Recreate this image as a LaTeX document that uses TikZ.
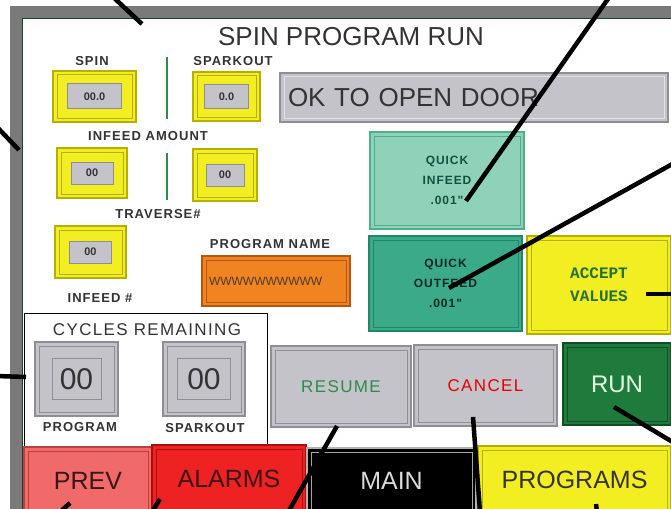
\documentclass[tikz,border=0pt]{standalone}
\usepackage{fontspec}
\setmainfont{Liberation Sans}
\newfontfamily\pixfont[BoldFont={Liberation Mono Bold}]{Liberation Mono}
\newfontfamily\labfont[LetterSpace=8]{Liberation Sans}
\usetikzlibrary{calc}
\definecolor{frame}{HTML}{7A7A7A}
\definecolor{ink}{HTML}{333333}
\definecolor{ylw}{HTML}{F2EE22}
\definecolor{ylwdk}{HTML}{B5B000}
\definecolor{fld}{HTML}{C4C3C9}
\definecolor{flddk}{HTML}{8E8E94}
\definecolor{fldlt}{HTML}{E2E2E6}
\definecolor{tealA}{HTML}{8ED3B9}
\definecolor{tealAdk}{HTML}{4FAF8D}
\definecolor{tealB}{HTML}{3BAA88}
\definecolor{tealBdk}{HTML}{21866A}
\definecolor{orng}{HTML}{F08420}
\definecolor{orngdk}{HTML}{B45810}
\definecolor{runG}{HTML}{1F7B3C}
\definecolor{runGdk}{HTML}{134F26}
\definecolor{lineG}{HTML}{2E8B4A}
\definecolor{prevR}{HTML}{F06A6A}
\definecolor{prevRdk}{HTML}{B84040}
\definecolor{alarmR}{HTML}{EE2222}
\definecolor{alarmRdk}{HTML}{A81010}
\definecolor{navink}{HTML}{3A1616}
\tikzset{
  sz/.style 2 args={minimum width=#1pt, minimum height=#2pt},
  bevel/.style={path picture={\draw[#1, line width=1pt]
      ([shift={(4pt,4pt)}]path picture bounding box.south west) rectangle
      ([shift={(-4pt,-4pt)}]path picture bounding box.north east);}},
  btn/.style={rectangle, inner sep=0pt, line width=1.6pt},
  ybox/.style={btn, fill=ylw, draw=ylwdk, bevel=ylwdk},
  field/.style={rectangle, inner sep=0pt, fill=fld, draw=flddk, line width=1pt,
      text=ink, font=\bfseries\fontsize{11}{11}\selectfont},
  gbox/.style={btn, fill=fld, draw=flddk, line width=2pt, bevel=flddk},
  nav/.style={btn, font=\fontsize{25}{25}\selectfont},
  lab/.style={text=ink, font=\labfont\bfseries\fontsize{13}{13}\selectfont},
  callout/.style={draw=black, line width=4.5pt},
  sep/.style={draw=lineG, line width=1.5pt},
}

\begin{document}
\begin{tikzpicture}[x=1pt, y=-1pt]
  \useasboundingbox (0,0) rectangle (671,508);
  \clip (0,0) rectangle (671,508);

  % screen
  \fill[frame] (10,6) rectangle (700,530);
  \node[rectangle, fill=white, draw=lineG!50!black, line width=0.8pt,
        anchor=north west, sz={690}{520}] (panel) at (22,18) {};
  \node[text=ink, font=\fontsize{26}{26}\selectfont] (title) at (351,37) {SPIN PROGRAM RUN};

  % set-up values
  \node[lab] (lspin) at (92,61) {SPIN};
  \node[lab] (lspark) at (233,61) {SPARKOUT};
  \node[ybox, sz={83}{51}] (spin) at (94.5,96.5) {};
  \node[field, sz={54}{25}] (spinv) at (spin) {00.0};
  \node[ybox, sz={67}{49}] (spark) at (226.5,96.5) {};
  \node[field, sz={44}{24}] (sparkv) at (spark) {0.0};
  \draw[sep] (167,57) -- (167,119);

  \node[lab] (linfeed) at (148,136) {INFEED AMOUNT};
  \node[ybox, sz={70}{50}] (infd) at (92,173) {};
  \node[field, sz={42}{22}] (infdv) at (infd) {00};
  \node[ybox, sz={64}{52}] (trav) at (225,175) {};
  \node[field, sz={38}{22}] (travv) at (trav) {00};
  \draw[sep] (167,153) -- (167,200);

  \node[lab] (ltrav) at (158,214) {TRAVERSE\#};
  \node[ybox, sz={71}{52}] (infn) at (90.5,252) {};
  \node[field, sz={42}{22}] (infnv) at (infn) {00};
  \node[lab] (linfn) at (100,298) {INFEED \#};

  \node[lab] (lprog) at (270,244) {PROGRAM NAME};
  \node[btn, fill=orng, draw=orngdk, bevel=orngdk, sz={148}{50}, text width=134pt, align=left,
        text=ink!80!orngdk, font=\fontsize{12}{12}\selectfont] (pname) at (276,281) {WWWWWWWWWW};

  \node[btn, fill=fld, draw=flddk, bevel=fldlt, sz={388}{49}, text width=372pt, align=left,
        text=ink, font=\fontsize{26}{26}\selectfont] (door) at (474,97.5) {OK TO OPEN DOOR};

  % quick moves
  \node[btn, fill=tealA, draw=tealAdk, bevel=tealAdk, sz={154}{97}, align=center,
        text=tealBdk!60!black, font=\labfont\bfseries\fontsize{12}{20}\selectfont] (qin) at (447,180.5)
        {QUICK\\INFEED\\.001"};
  \node[btn, fill=tealB, draw=tealBdk, bevel=tealBdk, sz={153}{95}, align=center,
        text=tealBdk!30!black, font=\labfont\bfseries\fontsize{12}{20}\selectfont] (qout) at (445.5,283.5)
        {QUICK\\OUTFEED\\.001"};
  \node[btn, fill=ylw, draw=ylwdk, bevel=ylwdk, sz={144}{98}, align=center,
        text=lineG!80!black, font=\pixfont\bfseries\fontsize{16}{23}\selectfont] (accept) at (599,285)
        {ACCEPT\\VALUES};

  % cycles remaining
  \node[rectangle, fill=white, draw=black, line width=1.2pt, anchor=north west,
        sz={243}{140}] (cycles) at (24,313) {};
  \node[text=ink, font=\labfont\fontsize{17}{17}\selectfont] (lcyc) at (147,330) {CYCLES REMAINING};
  \node[gbox, sz={83}{74}] (cprog) at (76.5,379) {};
  \node[field, sz={49}{41}, font=\fontsize{30}{30}\selectfont] (cprogv) at (cprog) {00};
  \node[gbox, sz={82}{74}] (cspark) at (204,379) {};
  \node[field, sz={53}{41}, font=\fontsize{30}{30}\selectfont] (csparkv) at (cspark) {00};
  \node[lab] (lcprog) at (80,427) {PROGRAM};
  \node[lab] (lcspark) at (205,428) {SPARKOUT};

  % run controls
  \node[gbox, sz={140}{81}, text=lineG, font=\labfont\fontsize{17}{17}\selectfont] (resume) at (341,386.5) {RESUME};
  \node[gbox, sz={143}{81}, text=red!90!black, font=\labfont\fontsize{17}{17}\selectfont] (cancel) at (485.5,385.5) {CANCEL};
  \node[btn, fill=runG, draw=runGdk, bevel=runGdk, sz={108}{82}, text=white!90!green,
        font=\fontsize{24}{24}\selectfont] (run) at (617,384) {RUN};

  % navigation
  \node[nav, fill=prevR, draw=prevRdk, bevel=prevRdk, sz={128}{68}, text=navink] (prev) at (88,481) {PREV};
  \node[nav, fill=alarmR, draw=alarmRdk, bevel=alarmRdk, sz={154}{68}, text=navink] (alarms) at (229,479) {ALARMS};
  \node[nav, fill=black, draw=gray!60, bevel=gray!70, sz={169}{65}, text=white!85!black] (main) at (391.5,480.5) {MAIN};
  \node[nav, fill=ylw, draw=ylwdk, bevel=ylwdk, sz={193}{67}, text=ink] (programs) at (574.5,479.5) {PROGRAMS};

  % callouts
  \coordinate (k1) at (112,-4);
  \coordinate (k2) at (-4,126);
  \coordinate (k3) at (-4,376);
  \coordinate (k4) at (610,-4);
  \coordinate (k5) at (676,162);
  \coordinate (k6) at (676,294);
  \coordinate (k7) at (676,444);
  \coordinate (k8) at (480,512);
  \coordinate (k9) at (287,514);
  \coordinate (k10) at (152,512);
  \coordinate (k11) at (60,512);
  \coordinate (k12) at (597,512);
  \draw[callout] (k1) -- ($(panel.north west)+(120,6)$);
  \draw[callout] (k2) -- ($(panel.north west)+(-3,132)$);
  \draw[callout] (k3) -- ($(cycles.north west)+(2,64)$);
  \draw[callout] (k4) -- ($(qin.center)+(19,20.5)$);
  \draw[callout] (k5) -- ($(qout.center)+(3.5,4.5)$);
  \draw[callout] (k6) -- ($(accept.center)+(47,9)$);
  \draw[callout] (k7) -- ($(run.center)+(-3,23)$);
  \draw[callout] (k8) -- ($(cancel.center)+(-12.5,31.5)$);
  \draw[callout] (k9) -- ($(resume.center)+(-4,39.5)$);
  \draw[callout] (k10) -- ($(alarms.center)+(-69,20)$);
  \draw[callout] (k11) -- ($(prev.center)+(-18,22)$);
  \draw[callout] (k12) -- ($(programs.center)+(21.5,24.5)$);
\end{tikzpicture}
\end{document}
